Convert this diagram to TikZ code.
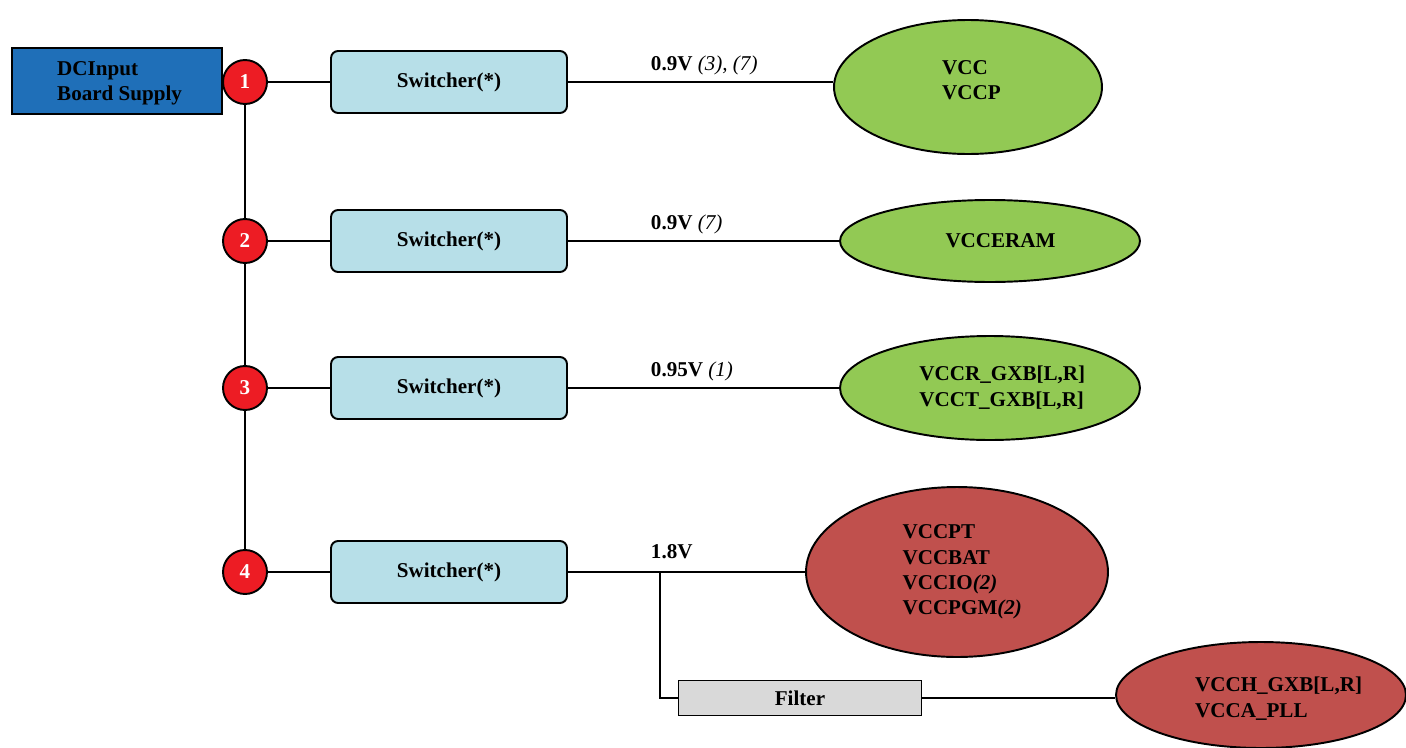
\documentclass[tikz,border=0pt]{standalone}
\usepackage{fontspec}
\setmainfont{Liberation Serif}
\usetikzlibrary{shapes.geometric}
\definecolor{dcblue}{HTML}{1F6FB8}
\definecolor{railgreen}{HTML}{92C954}
\definecolor{railred}{HTML}{C0504D}
\definecolor{dotred}{HTML}{ED1C24}
\definecolor{swblue}{HTML}{B7DFE8}
\definecolor{filtgray}{HTML}{D9D9D9}

\begin{document}
\begin{tikzpicture}[x=0.02cm, y=-0.02cm, line width=1.1pt,
    font=\fontsize{12}{14.5}\selectfont\bfseries,
    supply/.style={draw, fill=dcblue, align=left, minimum width=4.2cm, minimum height=1.32cm, text depth=0pt},
    dot/.style={circle, draw, fill=dotred, text=white, inner sep=0pt, minimum size=0.88cm},
    switcher/.style={draw, rounded corners=4pt, fill=swblue, minimum width=4.72cm, minimum height=1.24cm},
    filterbox/.style={draw, fill=filtgray, minimum width=4.86cm, minimum height=0.7cm},
    rail/.style={ellipse, draw, inner sep=0pt},
    railtext/.style={align=left, inner sep=0pt},
    volt/.style={anchor=west, inner sep=0pt}]
  \useasboundingbox (0,0) rectangle (1406,747);
  % source and taps
  \node[supply] (dc) at (117,81) {\hspace*{3pt}DCInput\\\hspace*{3pt}Board Supply};
  \node[dot] (c1) at (245,82)  {1};
  \node[dot] (c2) at (245,241) {2};
  \node[dot] (c3) at (245,388) {3};
  \node[dot] (c4) at (245,572) {4};
  % regulators
  \node[switcher] (sw1) at (449,82)  {Switcher(*)};
  \node[switcher] (sw2) at (449,241) {Switcher(*)};
  \node[switcher] (sw3) at (449,388) {Switcher(*)};
  \node[switcher] (sw4) at (449,572) {Switcher(*)};
  \node[filterbox] (flt) at (800,698) {Filter};
  % rails
  \node[rail, fill=railgreen, minimum width=5.36cm, minimum height=2.68cm,
        label={[railtext, xshift=2pt, yshift=4pt]center:VCC\\VCCP}] (e1) at (968,87) {};
  \node[rail, fill=railgreen, minimum width=6cm, minimum height=1.64cm,
        label={[railtext, xshift=6pt]center:VCCERAM}] (e2) at (990,241) {};
  \node[rail, fill=railgreen, minimum width=6cm, minimum height=2.08cm,
        label={[railtext, xshift=7pt]center:VCCR\_GXB[L,R]\\VCCT\_GXB[L,R]}] (e3) at (990,388) {};
  \node[rail, fill=railred, minimum width=6.04cm, minimum height=3.4cm,
        label={[railtext, xshift=3pt]center:VCCPT\\VCCBAT\\VCCIO\textit{(2)}\\VCCPGM\textit{(2)}}] (e4) at (957,572) {};
  \node[rail, fill=railred, minimum width=5.8cm, minimum height=2.12cm,
        label={[railtext, xshift=10pt, yshift=-2pt]center:VCCH\_GXB[L,R]\\VCCA\_PLL}] (e5) at (1261,695) {};
  % voltages
  \node[volt] (v1) at (650,65)  {0.9V \textit{\mdseries(3), (7)}};
  \node[volt] (v2) at (650,224) {0.9V \textit{\mdseries(7)}};
  \node[volt] (v3) at (650,371) {0.95V \textit{\mdseries(1)}};
  \node[volt] (v4) at (650,552) {1.8V};
  \coordinate (br) at (660,572);
  % wiring
  \draw (c1) -- (c2) -- (c3) -- (c4);
  \draw (c1) -- (sw1) (c2) -- (sw2) (c3) -- (sw3) (c4) -- (sw4);
  \draw (sw1.east) -- (sw1.east -| e1.west);
  \draw (sw2.east) -- (e2.west);
  \draw (sw3.east) -- (e3.west);
  \draw (sw4.east) -- (e4.west);
  \draw (br) |- (flt.west);
  \draw (flt.east) -- (flt.east -| e5.west);
\end{tikzpicture}
\end{document}
